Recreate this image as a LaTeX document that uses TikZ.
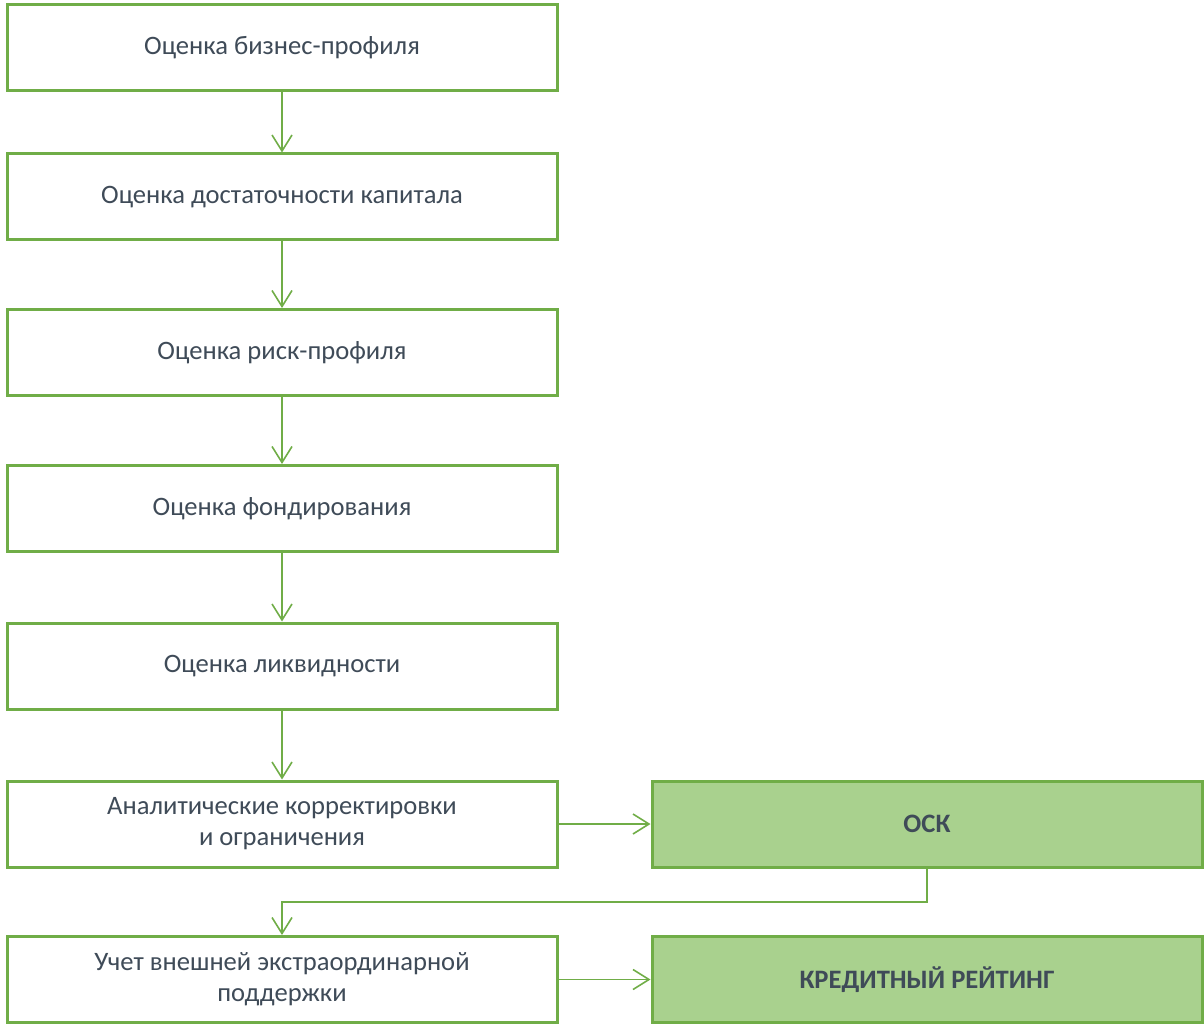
\documentclass[tikz,border=0pt]{standalone}
\usepackage{fontspec}
\setmainfont{Carlito}
\usetikzlibrary{arrows.meta,calc}
\definecolor{grn}{HTML}{70AD47}
\definecolor{lgrn}{HTML}{A9D18E}
\definecolor{txt}{HTML}{3F4B58}
\tikzset{
  box/.style={draw=grn, line width=1.5pt, fill=white, minimum width=275pt, minimum height=43pt, inner sep=0pt, align=center, text=txt, font=\fontsize{13.3}{15.5}\selectfont},
  fbox/.style={box, fill=lgrn, font=\fontsize{13.3}{15.5}\selectfont\bfseries},
  conn/.style={draw=grn, line width=0.8pt, -{Straight Barb[length=8pt,width=10pt,line width=0.8pt]}}
}
\begin{document}
\begin{tikzpicture}[x=0.5pt,y=-0.5pt]
\useasboundingbox (0,0) rectangle (1204,1026);
\node[box] (b1) at (282,47.5) {Оценка бизнес-профиля};
\node[box] (b2) at (282,197) {Оценка достаточности капитала};
\node[box] (b3) at (282,352.5) {Оценка риск-профиля};
\node[box] (b4) at (282,508.5) {Оценка фондирования};
\node[box] (b5) at (282,666) {Оценка ликвидности};
\node[box] (b6) at (282,824) {Аналитические корректировки\\и ограничения};
\node[box] (b7) at (282,979.5) {Учет внешней экстраординарной\\поддержки};
\node[fbox] (o) at (927,824) {ОСК};
\node[fbox] (k) at (927,979.5) {КРЕДИТНЫЙ РЕЙТИНГ};
\draw[conn] (b1) -- (b2);
\draw[conn] (b2) -- (b3);
\draw[conn] (b3) -- (b4);
\draw[conn] (b4) -- (b5);
\draw[conn] (b5) -- (b6);
\draw[conn] (b6) -- (o);
\draw[conn] (b7) -- (k);
\coordinate (mid) at ($(b6.south)!0.5!(b7.north)$);
\draw[conn] (o.south) |- (mid) -- (b7.north);
\end{tikzpicture}
\end{document}
